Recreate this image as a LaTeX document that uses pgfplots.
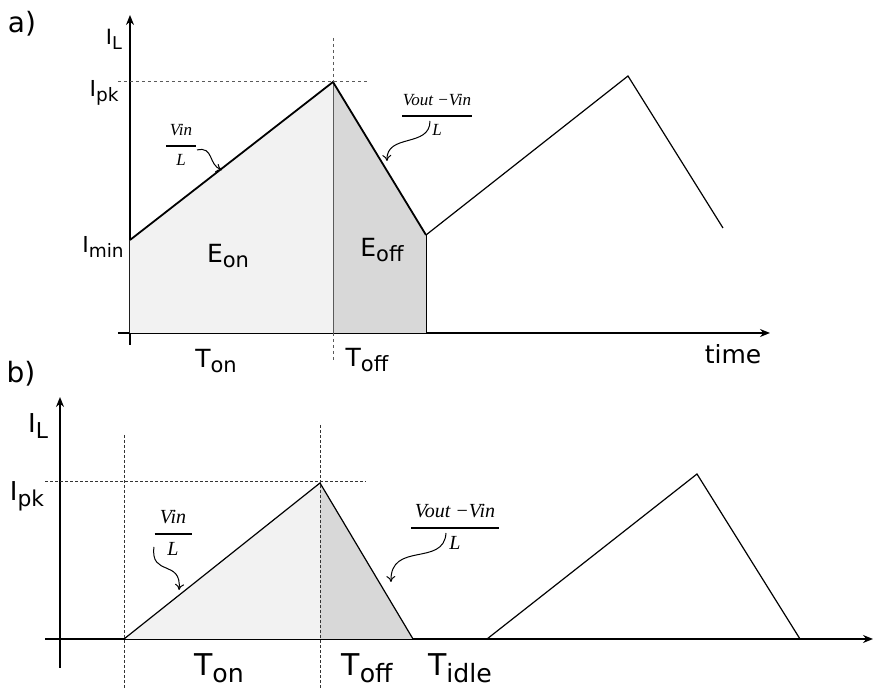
\documentclass[border=0pt]{standalone}
\usepackage{pgfplots}
\pgfplotsset{compat=1.18}
\usepackage{graphicx}
\usepackage{fontspec}
\setmainfont{DejaVu Sans}
\newfontfamily\tms{Liberation Serif}
\usetikzlibrary{arrows.meta}

\definecolor{onfill}{RGB}{242,242,242}
\definecolor{offfill}{RGB}{216,216,216}
\definecolor{guide}{RGB}{90,90,90}

% label with a lowered, slightly smaller subscript
\newcommand{\sub}[1]{\raisebox{-0.42ex}{\scalebox{0.84}{#1}}}
% slope fraction set in Times italic
\newcommand{\slope}[3]{{\tms\itshape\shortstack{#1\\[1.5pt]\rule{#3}{1pt}\\[0.5pt]#2}}}

\tikzset{note/.style={line width=0.5pt, -{To[length=3pt,width=4.5pt]}}}

\begin{document}
\begin{tikzpicture}
\path[use as bounding box] (0,0) rectangle (436.5pt,-344pt);

% ---------------- a) continuous conduction ----------------
\begin{axis}[
  at={(65pt,-166.5pt)}, anchor=origin,
  x=0.5pt, y=0.5pt,
  xmin=-12, xmax=640, ymin=-12, ymax=318,
  axis lines=middle, xtick=\empty, ytick=\empty,
  axis line style={line width=1pt, -{Stealth[length=5pt,width=4pt]}},
  clip=false,
]
\addplot[fill=onfill, draw=none] coordinates {(0,93) (203,251)} \closedcycle;
\addplot[fill=offfill, draw=none] coordinates {(203,251) (296,98)} \closedcycle;
\addplot[guide, line width=0.4pt] coordinates {(203,0) (203,251)};
\addplot[black, line width=0.5pt] coordinates {(296,0) (296,98)};
\addplot[black, line width=0.9pt] coordinates {(0,93) (203,251) (296,98)};
\addplot[black, line width=0.6pt] coordinates {(296,98) (498,257) (593,105)};
% guide lines at the peak
\addplot[guide, line width=0.4pt, dash pattern=on 1.5pt off 1.5pt] coordinates {(-12,252) (238,252)};
\addplot[guide, line width=0.4pt, dash pattern=on 1.5pt off 1.5pt] coordinates {(203,295) (203,251)};
\addplot[guide, line width=0.4pt, dash pattern=on 1.5pt off 1.5pt] coordinates {(203,0) (203,-27)};

\node[font=\fontsize{14}{14}\selectfont] at (axis cs:-108,309) {a)};
\node[font=\fontsize{10.5}{10.5}\selectfont] at (axis cs:-16,294) {I\sub{L}};
\node[font=\fontsize{11}{11}\selectfont] at (axis cs:-26,240) {I\sub{pk}};
\node[font=\fontsize{11}{11}\selectfont] at (axis cs:-27,86) {I\sub{min}};
\node[font=\fontsize{12.5}{12.5}\selectfont] at (axis cs:98,77) {E\sub{on}};
\node[font=\fontsize{12.5}{12.5}\selectfont] at (axis cs:252,83) {E\sub{off}};
\node[font=\fontsize{12.5}{12.5}\selectfont] at (axis cs:86,-28) {T\sub{on}};
\node[font=\fontsize{12.5}{12.5}\selectfont] at (axis cs:237,-27) {T\sub{off}};
\node[font=\fontsize{12.5}{12.5}\selectfont] at (axis cs:603,-21) {time};

\node[font=\fontsize{8.5}{8.5}\selectfont, inner sep=0pt] at (axis cs:51,188) {\slope{Vin}{L}{14.5pt}};
\node[font=\fontsize{8.5}{8.5}\selectfont, inner sep=0pt] at (axis cs:307,218) {\slope{Vout −Vin}{L}{35pt}};
\draw[note] (axis cs:67,183) .. controls (axis cs:84,187) and (axis cs:78,168) .. (axis cs:92,163);
\draw[note] (axis cs:300,212) .. controls (axis cs:300,185) and (axis cs:256,200) .. (axis cs:257,172);
\end{axis}

% ---------------- b) discontinuous conduction ----------------
\begin{axis}[
  at={(30pt,-319.5pt)}, anchor=origin,
  x=0.5pt, y=0.5pt,
  xmin=-15, xmax=813, ymin=-29, ymax=242,
  axis lines=middle, xtick=\empty, ytick=\empty,
  axis line style={line width=1pt, -{Stealth[length=5pt,width=4pt]}},
  clip=false,
]
\addplot[fill=onfill, draw=none] coordinates {(64,0) (260,156)} \closedcycle;
\addplot[fill=offfill, draw=none] coordinates {(260,156) (353,0)} \closedcycle;
\addplot[black, line width=0.6pt] coordinates {(64,0) (260,156) (353,0)};
\addplot[black, line width=0.6pt] coordinates {(427,0) (637,165) (740,0)};
% guide lines
\addplot[black!80, line width=0.5pt, dash pattern=on 1.5pt off 1pt] coordinates {(-15,157) (306,157)};
\addplot[black!80, line width=0.5pt, dash pattern=on 1.5pt off 1pt] coordinates {(64,204) (64,-49)};
\addplot[black!80, line width=0.5pt, dash pattern=on 1.5pt off 1pt] coordinates {(260,214) (260,-49)};

\node[font=\fontsize{14}{14}\selectfont] at (axis cs:-39,265) {b)};
\node[font=\fontsize{13}{13}\selectfont] at (axis cs:-22,213) {I\sub{L}};
\node[font=\fontsize{13}{13}\selectfont] at (axis cs:-33,143) {I\sub{pk}};
\node[font=\fontsize{15}{15}\selectfont] at (axis cs:159,-29) {T\sub{on}};
\node[font=\fontsize{15}{15}\selectfont] at (axis cs:307,-29) {T\sub{off}};
\node[font=\fontsize{15}{15}\selectfont] at (axis cs:400,-29) {T\sub{idle}};

\node[font=\fontsize{10}{10}\selectfont, inner sep=0pt] at (axis cs:113,106) {\slope{Vin}{L}{18.5pt}};
\node[font=\fontsize{10}{10}\selectfont, inner sep=0pt] at (axis cs:395,112) {\slope{Vout −Vin}{L}{44pt}};
\draw[note] (axis cs:94,92) .. controls (axis cs:90,62) and (axis cs:122,80) .. (axis cs:119,49);
\draw[note] (axis cs:386,106) .. controls (axis cs:384,72) and (axis cs:330,98) .. (axis cs:331,57);
\end{axis}
\end{tikzpicture}
\end{document}
